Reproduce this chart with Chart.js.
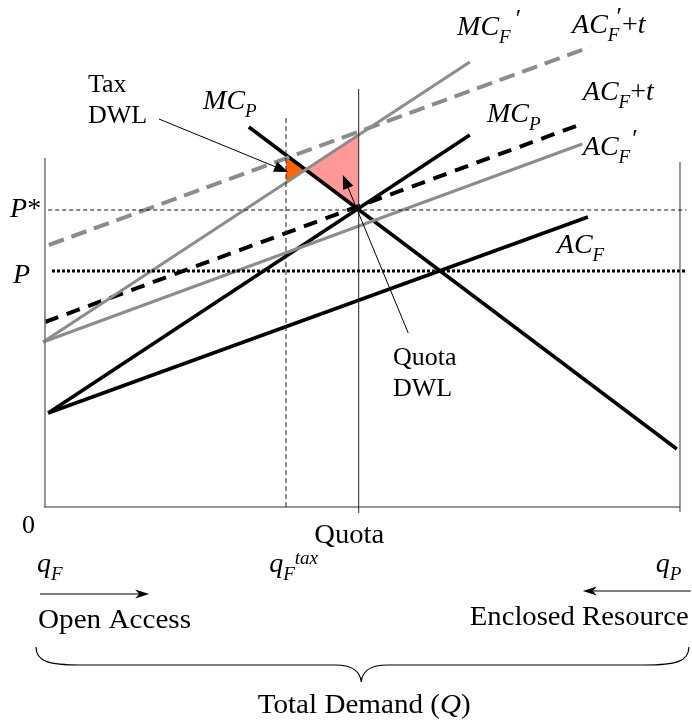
<!DOCTYPE html>
<html>
<head>
<meta charset="utf-8">
<script src="https://cdn.jsdelivr.net/npm/chart.js@4.4.1/dist/chart.umd.min.js"></script>
<style>
html, body { margin: 0; padding: 0; background: #fff; }
#wrap { width: 692px; height: 724px; }
</style>
</head>
<body>
<div id="wrap"><canvas id="fig" width="692" height="724"></canvas></div>
<script>
// end points of every line, quantity (q) and price (p)
const qAxisLeft = [0, 0];        const pAxisLeft = [0, 69.8];
const qAxisRight = [100, 100];   const pAxisRight = [-1, 69];
const qAxisBottom = [-0.2, 100]; const pAxisBottom = [0, 0];

const qACF = [0.5, 85.5];    const pACF = [18.8, 58.0];
const qMCFup = [0.5, 66.9];  const pMCFup = [18.8, 74.4];   // labelled MC_P on the figure
const qMCP = [32.1, 99.5];   const pMCP = [76.0, 11.6];
const qACF2 = [-0.3, 84.6];  const pACF2 = [33.0, 72.6];
const qMCF2 = [-0.3, 66.9];  const pMCF2 = [33.0, 89.0];
const qACFt = [0, 84.9];     const pACFt = [37.0, 76.8];
const qACF2t = [0.6, 85.8];  const pACF2t = [52.4, 92.0];

const qPstar = [0.5, 101];   const pPstar = [59.4, 59.4];
const qPline = [1.1, 101];   const pPline = [47.2, 47.2];
const qQuota = [49.4, 49.4]; const pQuota = [-1.2, 83.6];
const qTax = [37.95, 37.95]; const pTax = [0, 78];

// dead weight loss triangles
const qTaxDWL = [37.95, 41.04, 37.95, 37.95];   const pTaxDWL = [70.4, 67.45, 64.9, 70.4];
const qQuotaDWL = [41.04, 49.4, 49.4, 41.04];   const pQuotaDWL = [67.45, 74.4, 59.5, 67.45];

const GRAY = '#8c8c8c';
const SERIF = '"Liberation Serif", "Times New Roman", serif';

function pts(qs, ps) {
    return qs.map((q, i) => ({ x: q, y: ps[i] }));
}

function seg(qs, ps, color, width, dash, extra) {
    return Object.assign({
        data: pts(qs, ps),
        borderColor: color,
        borderWidth: width,
        borderDash: dash || [],
        borderCapStyle: 'butt',
        pointRadius: 0,
        fill: false,
        tension: 0,
        order: 1
    }, extra || {});
}

// text labels: position of the baseline start in (q, p)
const labels = [
    { q: 6.77, p: 83.0, size: 26, parts: [['Tax', 'r']] },
    { q: 6.77, p: 76.8, size: 26, parts: [['DWL', 'r']] },
    { q: 24.9, p: 79.6, size: 28, parts: [['MC', 'i'], ['P', 'sub']] },
    { q: 64.9, p: 94.4, size: 28, parts: [['MC', 'i'], ['F', 'sub'], ['\u2032', 'pr', 5]] },
    { q: 83.0, p: 94.8, size: 28, parts: [['AC', 'i'], ['F', 'sub'], ['\u2032', 'pr', -3], ['+', 'r', 0], ['t', 'i']] },
    { q: 84.7, p: 81.4, size: 28, parts: [['AC', 'i'], ['F', 'sub'], ['+', 'r'], ['t', 'i']] },
    { q: 69.6, p: 77.0, size: 28, parts: [['MC', 'i'], ['P', 'sub']] },
    { q: 84.7, p: 70.4, size: 28, parts: [['AC', 'i'], ['F', 'sub'], ['\u2032', 'pr', 2]] },
    { q: 80.6, p: 50.8, size: 28, parts: [['AC', 'i'], ['F', 'sub']] },
    { q: -5.5, p: 58.0, size: 28, parts: [['P', 'i'], ['*', 'r']] },
    { q: -5.04, p: 44.8, size: 28, parts: [['P', 'i']] },
    { q: 54.8, p: 28.4, size: 26, parts: [['Quota', 'r']] },
    { q: 54.8, p: 22.2, size: 26, parts: [['DWL', 'r']] },
    { q: -3.62, p: -5.2, size: 26, parts: [['0', 'r']] },
    { q: 42.4, p: -7.2, size: 27, w: 70, parts: [['Quota', 'r']] },
    { q: -1.26, p: -13, size: 28, parts: [['q', 'i'], ['F', 'sub']] },
    { q: 35.3, p: -13, size: 28, parts: [['q', 'i'], ['F', 'sub'], ['tax', 'sup']] },
    { q: 96.2, p: -13, size: 28, parts: [['q', 'i'], ['P', 'sub']] },
    { q: -1.1, p: -24.2, size: 27, w: 153, parts: [['Open Access', 'r']] },
    { q: 66.9, p: -23.6, size: 27, w: 219, parts: [['Enclosed Resource', 'r']] },
    { q: 33.5, p: -41.2, size: 27, w: 213, parts: [['Total Demand (', 'r'], ['Q', 'i'], [')', 'r']] }
];

const arrows = [
    { from: [17.95, 77.6], to: [38.27, 67.0], head: 'fill' },
    { from: [57.2, 34.8], to: [46.9, 66.4], head: 'fill' },
    { from: [-0.79, -17.4], to: [16.4, -17.4], head: 'stealth' },
    { from: [101.7, -16.8], to: [84.7, -16.8], head: 'stealth' }
];

const brace = { q0: -1.42, q1: 101.4, qTip: 49.8, pEnd: -28, pBar: -31.6, pTip: -35 };

function drawRich(ctx, x, y, parts, size, w) {
    const styles = {
        r: [size, 0, ''],
        i: [size, 0, 'italic '],
        sub: [size * 0.68, size * 0.3, 'italic '],
        sup: [size * 0.68, -size * 0.3, 'italic '],
        pr: [size * 0.9, -size * 0.28, '']
    };
    const items = parts.map(([t, k, dx]) => {
        const s = styles[k];
        ctx.font = `${s[2]}${s[0]}px ${SERIF}`;
        return { t, s, wd: ctx.measureText(t).width, dx: dx || 0 };
    });
    let total = 0;
    items.forEach(it => total += it.wd + it.dx);
    const sx = w ? w / total : 1;
    ctx.save();
    ctx.translate(x, y);
    ctx.scale(sx, 1);
    let cx = 0;
    items.forEach(it => {
        cx += it.dx;
        ctx.font = `${it.s[2]}${it.s[0]}px ${SERIF}`;
        ctx.fillText(it.t, cx, it.s[1]);
        cx += it.wd;
    });
    ctx.restore();
}

function drawArrow(ctx, x0, y0, x1, y1, head) {
    const a = Math.atan2(y1 - y0, x1 - x0);
    const len = 14;
    const hw = head === 'fill' ? 5.5 : 4.5;
    const notch = head === 'fill' ? 0 : 4;
    ctx.beginPath();
    ctx.moveTo(x0, y0);
    ctx.lineTo(x1 - Math.cos(a) * (len - notch - 1), y1 - Math.sin(a) * (len - notch - 1));
    ctx.stroke();
    ctx.save();
    ctx.translate(x1, y1);
    ctx.rotate(a);
    ctx.beginPath();
    ctx.moveTo(0, 0);
    ctx.lineTo(-len, -hw);
    ctx.lineTo(-len + notch, 0);
    ctx.lineTo(-len, hw);
    ctx.closePath();
    ctx.fill();
    ctx.restore();
}

const annotate = {
    id: 'annotate',
    afterDatasetsDraw(chart) {
        const ctx = chart.ctx;
        const X = v => chart.scales.x.getPixelForValue(v);
        const Y = v => chart.scales.y.getPixelForValue(v);
        ctx.save();
        ctx.fillStyle = '#000';
        ctx.strokeStyle = '#000';
        ctx.textBaseline = 'alphabetic';
        labels.forEach(l => drawRich(ctx, X(l.q), Y(l.p), l.parts, l.size, l.w));

        ctx.lineWidth = 1;
        arrows.forEach(a => drawArrow(ctx, X(a.from[0]), Y(a.from[1]), X(a.to[0]), Y(a.to[1]), a.head));

        // curly brace under the quantity axis
        const l = X(brace.q0), r = X(brace.q1), m = X(brace.qTip);
        const ye = Y(brace.pEnd), yb = Y(brace.pBar), yt = Y(brace.pTip);
        ctx.lineWidth = 1.2;
        ctx.beginPath();
        ctx.moveTo(l, ye);
        ctx.bezierCurveTo(l, yb - 3, l + 14, yb, l + 44, yb);
        ctx.lineTo(m - 26, yb);
        ctx.bezierCurveTo(m - 10, yb, m - 1, yb + 6, m, yt);
        ctx.bezierCurveTo(m + 1, yb + 6, m + 10, yb, m + 26, yb);
        ctx.lineTo(r - 44, yb);
        ctx.bezierCurveTo(r - 14, yb, r, yb - 3, r, ye);
        ctx.stroke();
        ctx.restore();
    }
};

const datasets = [
    // thin reference lines and axes
    seg(qAxisLeft, pAxisLeft, '#707070', 1.5),
    seg(qAxisRight, pAxisRight, '#333', 1),
    seg(qAxisBottom, pAxisBottom, '#333', 1.2),
    seg(qQuota, pQuota, '#222', 1),
    seg(qTax, pTax, '#222', 1, [5, 3]),
    seg(qPstar, pPstar, '#111', 1, [4, 3]),
    seg(qPline, pPline, '#000', 3, [3, 2]),
    // cost curves
    seg(qACF2t, pACF2t, GRAY, 4, [16, 8]),
    seg(qMCF2, pMCF2, GRAY, 3),
    seg(qACF2, pACF2, GRAY, 3),
    seg(qACFt, pACFt, '#000', 4, [14, 9]),
    seg(qACF, pACF, '#000', 3.5),
    seg(qMCFup, pMCFup, '#000', 3.5),
    seg(qMCP, pMCP, '#000', 3.5),
    // shaded areas, drawn underneath
    seg(qTaxDWL, pTaxDWL, 'rgba(0,0,0,0)', 0, [], { fill: 'shape', backgroundColor: '#ff6600', order: 10 }),
    seg(qQuotaDWL, pQuotaDWL, 'rgba(0,0,0,0)', 0, [], { fill: 'shape', backgroundColor: '#ff9999', order: 10 })
];

const chart = new Chart(document.getElementById('fig').getContext('2d'), {
    type: 'line',
    data: { datasets: datasets },
    options: {
        responsive: false,
        animation: false,
        devicePixelRatio: 1,
        layout: { padding: 0 },
        plugins: { legend: { display: false }, tooltip: { enabled: false } },
        scales: {
            x: { type: 'linear', min: -7.087, max: 101.89, display: false },
            y: { type: 'linear', min: -43.4, max: 101.4, display: false }
        }
    },
    plugins: [annotate]
});
</script>
</body>
</html>
